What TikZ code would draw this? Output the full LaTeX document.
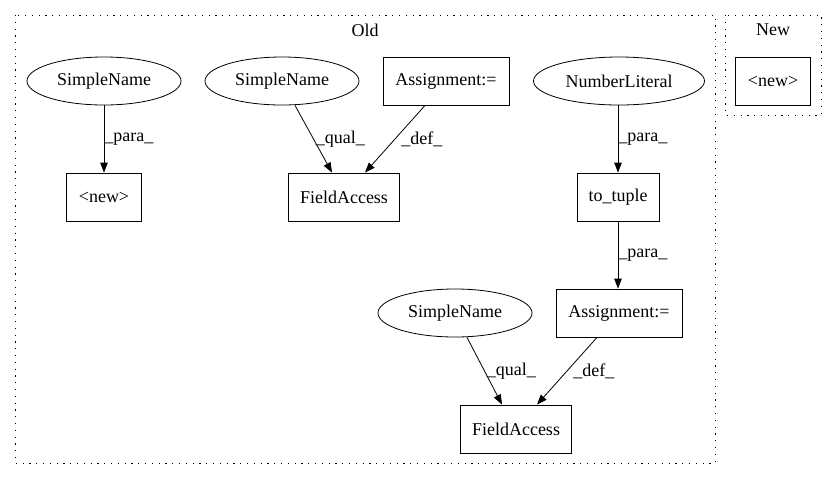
\documentclass[tikz,border=0pt]{standalone}
\usepackage{fontspec}
\setmainfont{Liberation Serif}
\usepackage{tikz}
\usetikzlibrary{shapes,arrows.meta}
\tikzstyle{box} = [rectangle, draw, line width=0.8pt, text centered, minimum height=48pt, inner sep=0pt]
\tikzstyle{oval} = [ellipse, draw, line width=0.8pt, text centered, minimum height=48pt, minimum width=154pt, inner sep=0pt]
\tikzstyle{cluster} = [draw, line width=0.9pt, dash pattern=on 1.2pt off 5.6pt]
\tikzstyle{line} = [draw, line width=0.8pt, -{Triangle[length=10pt,width=7.5pt]}]

\begin{document}
\begin{tikzpicture}[x=1pt, y=-1pt, font=\fontsize{18}{21}\selectfont,
  lbl/.style={right, inner sep=0pt}]
\useasboundingbox (0,0) rectangle (837,480);
\draw [cluster] (15,15) rectangle (715,463);
\draw [cluster] (725,15) rectangle (821,115);
\node at (365,30) (old) {Old};
\node at (773,30) (new) {New};

\node [box, minimum width=75pt] at (773,81) (newbox) {<new>};

\node [oval] at (104,81) (sn1) {SimpleName};
\node [box, minimum width=75pt] at (104,197) (oldnew) {<new>};
\node [oval] at (282,81) (sn2) {SimpleName};
\node [box, minimum width=126pt] at (446,81) (assign1) {Assignment:=};
\node [box, minimum width=111pt] at (344,197) (fa1) {FieldAccess};
\node [oval, minimum width=171pt] at (619,81) (numlit) {NumberLiteral};
\node [box, minimum width=82pt] at (618,197) (totuple) {to\_tuple};
\node [box, minimum width=126pt] at (619,313) (assign2) {Assignment:=};
\node [oval] at (455,313) (sn3) {SimpleName};
\node [box, minimum width=111pt] at (516,429) (fa2) {FieldAccess};

\draw [line] (sn1) -- node[lbl] {\_para\_} (oldnew);
\draw [line] ([xshift=13pt] sn2.south) -- node[lbl, xshift=2pt] {\_qual\_} ([xshift=-12pt] fa1.north);
\draw [line] ([xshift=-21pt] assign1.south) -- node[lbl, xshift=6pt] {\_def\_} ([xshift=21pt] fa1.north);
\draw [line] ([xshift=-1pt] numlit.south) -- node[lbl] {\_para\_} (totuple);
\draw [line] (totuple) -- node[lbl] {\_para\_} ([xshift=-1pt] assign2.north);
\draw [line] ([xshift=12pt] sn3.south) -- node[lbl, xshift=2pt] {\_qual\_} ([xshift=-14pt] fa2.north);
\draw [line] ([xshift=-22pt] assign2.south) -- node[lbl, xshift=6pt] {\_def\_} ([xshift=21pt] fa2.north);
\end{tikzpicture}
\end{document}
